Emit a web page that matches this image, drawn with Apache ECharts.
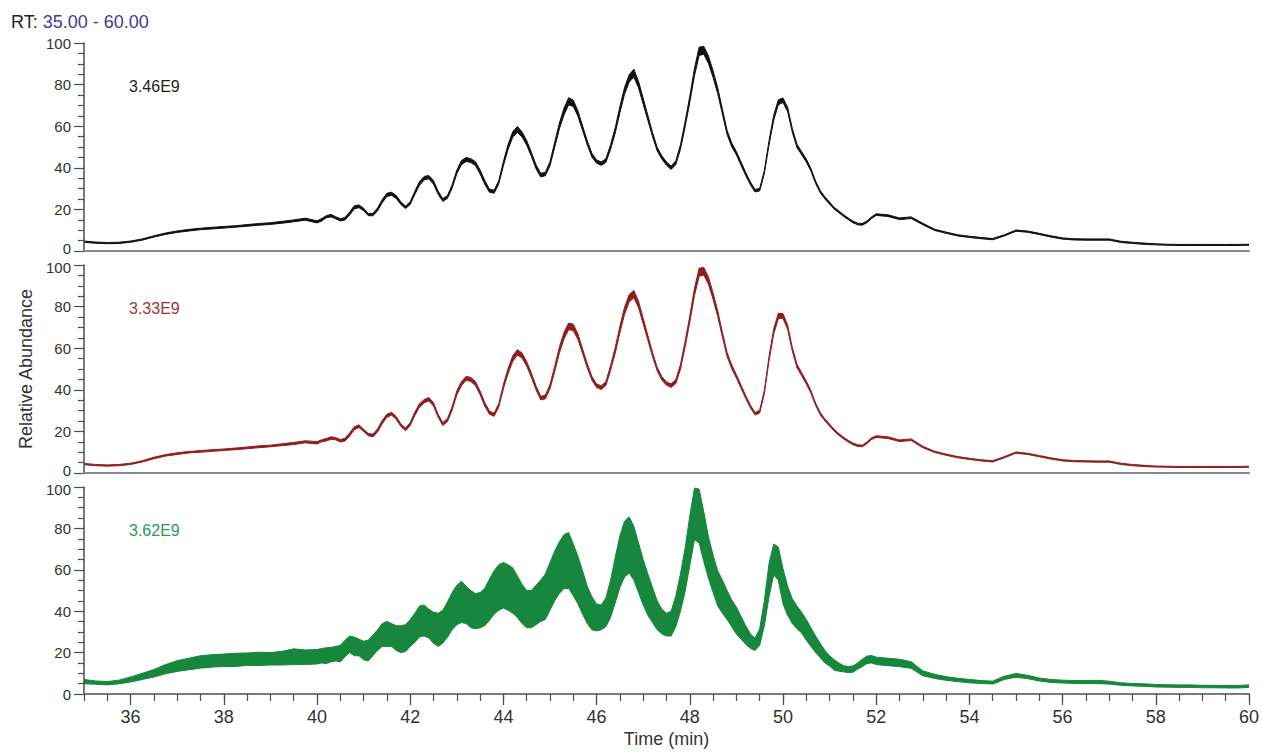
<!DOCTYPE html>
<html>
<head>
<meta charset="utf-8">
<script src="https://cdn.jsdelivr.net/npm/echarts@6/dist/echarts.min.js"></script>
<style>
  html, body { margin: 0; padding: 0; background: #ffffff; }
  #chart { width: 1262px; height: 753px; }
</style>
</head>
<body>
<div id="chart"></div>
<script>
// Retention times (min) at which the three traces are sampled
const times = [
  35, 35.25, 35.5, 35.75, 36, 36.25, 36.5, 36.75, 37, 37.25, 37.5, 37.75, 38, 38.25, 38.5, 38.75, 39, 39.25, 39.5, 39.75,
  40.0, 40.1, 40.2, 40.3, 40.4, 40.5, 40.6, 40.7, 40.8, 40.9,
  41.0, 41.1, 41.2, 41.3, 41.4, 41.5, 41.6, 41.7, 41.8, 41.9,
  42.0, 42.1, 42.2, 42.3, 42.4, 42.5, 42.6, 42.7, 42.8, 42.9,
  43.0, 43.1, 43.2, 43.3, 43.4, 43.5, 43.6, 43.7, 43.8, 43.9,
  44.0, 44.1, 44.2, 44.3, 44.4, 44.5, 44.6, 44.7, 44.8, 44.9,
  45.0, 45.1, 45.2, 45.3, 45.4, 45.5, 45.6, 45.7, 45.8, 45.9,
  46.0, 46.1, 46.2, 46.3, 46.4, 46.5, 46.6, 46.7, 46.8, 46.9,
  47.0, 47.1, 47.2, 47.3, 47.4, 47.5, 47.6, 47.7, 47.8, 47.9,
  48.0, 48.1, 48.2, 48.3, 48.4, 48.5, 48.6, 48.7, 48.8, 48.9,
  49.0, 49.1, 49.2, 49.3, 49.4, 49.5, 49.6, 49.7, 49.8, 49.9,
  50.0, 50.1, 50.2, 50.3, 50.4, 50.5, 50.6, 50.7, 50.8, 50.9,
  51.0, 51.1, 51.2, 51.3, 51.4, 51.5, 51.6, 51.7, 51.8, 51.9,
  52.0,
  52.25, 52.5, 52.75, 53, 53.25, 53.5, 53.75, 54, 54.25, 54.5, 54.75, 55, 55.25, 55.5, 55.75, 56,
  56.25, 56.5, 56.75, 57, 57.25, 57.5, 57.75, 58, 58.25, 58.5, 58.75, 59, 59.25, 59.5, 59.75, 60
];

// Trace 1 (black): centre of the trace and half-width of its noise band, relative abundance %
const blackMid = [
  4.5, 4.0, 3.8, 3.9, 4.5, 5.5, 7.0, 8.3, 9.3, 10.0, 10.6, 11.0, 11.4, 11.8, 12.3, 12.8, 13.2, 13.8, 14.5, 15.3,
  14.0, 15.0, 16.5, 17.0, 16.0, 15.0, 15.5, 18.0, 21.0, 21.5,
  20.0, 17.5, 17.5, 20.0, 24.0, 27.0, 27.5, 26.0, 23.0, 21.0,
  23.0, 28.0, 32.5, 35.0, 35.5, 33.0, 28.0, 24.5, 26.0, 31.0,
  38.0, 42.5, 44.0, 43.5, 42.0, 38.0, 33.0, 29.0, 28.5, 33.0,
  42.0, 50.0, 56.0, 58.5, 56.0, 52.0, 46.5, 40.5, 36.5, 37.0,
  42.0, 51.0, 60.0, 67.0, 72.0, 71.0, 66.0, 59.0, 52.0, 46.0,
  43.0, 42.0, 43.5, 50.0, 58.0, 68.0, 77.0, 83.0, 85.5, 80.0,
  72.0, 64.0, 56.0, 49.0, 45.0, 42.0, 40.0, 42.5, 50.0, 61.0,
  73.0, 86.0, 96.0, 96.5, 92.0, 85.0, 77.0, 67.0, 57.0, 51.0,
  47.0, 42.0, 37.0, 32.5, 29.0, 29.5, 38.0, 52.0, 64.0, 71.5,
  72.5, 68.0, 58.0, 50.5, 47.0, 43.5, 39.0, 33.0, 28.5, 25.5,
  23.0, 20.5, 18.8, 17.0, 15.5, 14.0, 13.0, 12.8, 14.0, 16.0,
  17.5,
  17.0, 15.5, 16.0, 13.0, 10.2, 8.8, 7.5, 6.8, 6.2, 5.7, 7.5, 9.8, 9.3, 8.2, 7.0, 6.0,
  5.6, 5.5, 5.5, 5.5, 4.4, 3.9, 3.5, 3.2, 3.0, 2.9, 2.9, 2.9, 2.9, 2.9, 2.9, 3.0
];
const blackSpread = [
  0.3, 0.3, 0.3, 0.3, 0.3, 0.3, 0.3, 0.35, 0.35, 0.4, 0.35, 0.4, 0.4, 0.35, 0.4, 0.4, 0.4, 0.45, 0.45, 0.5,
  0.5, 0.6, 0.5, 0.6, 0.5, 0.55, 0.6, 0.7, 0.75, 0.65,
  0.6, 0.5, 0.6, 0.7, 0.75, 0.8, 0.75, 0.7, 0.65, 0.6,
  0.65, 0.75, 0.9, 0.85, 0.8, 0.9, 0.75, 0.65, 0.7, 0.8,
  0.9, 1.0, 1.0, 0.9, 0.95, 1.0, 0.9, 0.75, 0.7, 0.8,
  1.0, 1.2, 1.3, 1.4, 1.25, 1.1, 1.0, 1.0, 0.9, 0.8,
  1.0, 1.2, 1.4, 1.6, 1.7, 1.5, 1.3, 1.1, 1.0, 0.9,
  0.8, 0.8, 0.9, 1.1, 1.3, 1.5, 1.6, 1.8, 1.9, 1.6,
  1.4, 1.2, 1.0, 0.9, 0.8, 0.8, 0.8, 0.9, 1.1, 1.3,
  1.5, 1.8, 2.0, 1.9, 1.8, 1.6, 1.4, 1.2, 1.0, 0.9,
  0.8, 0.8, 0.75, 0.65, 0.6, 0.6, 0.8, 1.0, 1.2, 1.2,
  1.1, 1.0, 0.9, 0.8, 0.75, 0.7, 0.65, 0.6, 0.55, 0.5,
  0.5, 0.45, 0.45, 0.4, 0.4, 0.4, 0.4, 0.4, 0.4, 0.4,
  0.4,
  0.4, 0.4, 0.4, 0.35, 0.3, 0.3, 0.3, 0.3, 0.3, 0.3, 0.3, 0.3, 0.3, 0.3, 0.3, 0.3,
  0.3, 0.3, 0.3, 0.3, 0.3, 0.3, 0.3, 0.25, 0.25, 0.25, 0.25, 0.25, 0.25, 0.25, 0.25, 0.25
];

// Trace 2 (red)
const redMid = [
  4.3, 3.8, 3.6, 3.8, 4.4, 5.6, 7.2, 8.5, 9.3, 10.0, 10.4, 10.8, 11.2, 11.6, 12.1, 12.6, 13.0, 13.6, 14.2, 15.0,
  14.5, 15.5, 16.0, 16.8, 16.5, 15.5, 16.0, 18.5, 21.5, 22.5,
  20.5, 18.5, 18.0, 20.5, 24.5, 27.5, 28.5, 26.5, 23.0, 21.0,
  23.5, 28.5, 32.5, 34.5, 35.5, 33.0, 27.5, 23.5, 25.5, 31.0,
  38.5, 43.0, 45.5, 45.0, 43.0, 38.5, 33.0, 29.0, 28.0, 32.5,
  41.5, 49.0, 55.0, 58.0, 56.5, 52.5, 47.0, 41.0, 36.0, 36.5,
  41.5, 50.0, 59.0, 66.0, 70.5, 70.0, 65.5, 58.5, 51.5, 45.5,
  42.0, 41.0, 43.0, 50.5, 59.0, 69.0, 78.0, 84.0, 86.0, 81.0,
  73.0, 65.0, 57.0, 50.0, 45.5, 43.0, 42.0, 44.0, 51.0, 62.0,
  74.0, 87.0, 96.5, 97.0, 92.5, 85.0, 76.5, 66.5, 57.0, 51.0,
  46.5, 41.5, 36.5, 32.0, 28.5, 29.5, 39.0, 55.0, 68.0, 75.5,
  75.5, 70.0, 59.5, 51.5, 47.5, 43.5, 39.0, 33.0, 28.5, 25.5,
  23.0, 20.5, 18.5, 16.8, 15.3, 14.0, 13.2, 13.0, 14.5, 16.5,
  17.5,
  17.0, 15.5, 16.0, 12.5, 10.2, 8.8, 7.6, 6.8, 6.1, 5.6, 7.6, 9.8, 9.2, 8.1, 7.0, 6.1,
  5.7, 5.6, 5.5, 5.5, 4.4, 3.8, 3.4, 3.1, 3.0, 2.9, 2.9, 2.9, 2.9, 2.9, 2.9, 3.0
];
const redSpread = [
  0.3, 0.3, 0.3, 0.3, 0.3, 0.3, 0.35, 0.35, 0.4, 0.35, 0.4, 0.4, 0.35, 0.4, 0.4, 0.45, 0.4, 0.45, 0.5, 0.5,
  0.55, 0.5, 0.6, 0.6, 0.55, 0.6, 0.65, 0.75, 0.7, 0.65,
  0.55, 0.55, 0.65, 0.75, 0.8, 0.75, 0.7, 0.65, 0.6, 0.65,
  0.7, 0.8, 0.85, 0.8, 0.85, 0.8, 0.7, 0.7, 0.75, 0.85,
  0.95, 1.0, 0.95, 0.95, 1.0, 0.9, 0.85, 0.75, 0.75, 0.85,
  1.05, 1.25, 1.35, 1.3, 1.2, 1.1, 1.05, 0.95, 0.85, 0.85,
  1.05, 1.25, 1.45, 1.55, 1.6, 1.55, 1.35, 1.15, 1.0, 0.9,
  0.85, 0.85, 0.95, 1.15, 1.35, 1.55, 1.7, 1.8, 1.75, 1.55,
  1.35, 1.15, 1.0, 0.9, 0.85, 0.8, 0.85, 0.95, 1.15, 1.35,
  1.55, 1.75, 1.9, 1.85, 1.75, 1.55, 1.35, 1.15, 1.0, 0.9,
  0.85, 0.8, 0.7, 0.65, 0.6, 0.65, 0.85, 1.05, 1.25, 1.3,
  1.15, 1.0, 0.9, 0.85, 0.75, 0.7, 0.65, 0.6, 0.55, 0.5,
  0.5, 0.45, 0.45, 0.4, 0.4, 0.4, 0.4, 0.4, 0.4, 0.4,
  0.4,
  0.4, 0.4, 0.4, 0.35, 0.3, 0.3, 0.3, 0.3, 0.3, 0.3, 0.3, 0.3, 0.3, 0.3, 0.3, 0.3,
  0.3, 0.3, 0.3, 0.3, 0.3, 0.3, 0.3, 0.25, 0.25, 0.25, 0.25, 0.25, 0.25, 0.25, 0.25, 0.25
];

// Trace 3 (green): a much noisier signal, hence the wide band
const greenMid = [
  6.0, 5.5, 5.2, 5.8, 7.0, 8.5, 10.0, 12.0, 13.5, 14.5, 15.5, 16.0, 16.3, 16.5, 16.8, 17.0, 17.0, 17.3, 18.0, 17.8,
  18.0, 18.5, 18.5, 19.0, 19.5, 19.5, 22.0, 24.0, 23.0, 22.5,
  21.0, 21.0, 23.5, 26.0, 28.5, 29.0, 28.5, 27.0, 26.5, 27.0,
  29.5, 32.0, 35.0, 35.5, 34.0, 32.0, 31.0, 32.5, 36.0, 40.0,
  43.0, 44.5, 43.0, 41.0, 40.0, 40.5, 42.0, 45.5, 49.0, 51.5,
  52.5, 51.5, 50.0, 47.0, 43.5, 41.0, 41.0, 43.0, 45.0, 47.0,
  52.0, 57.0, 61.0, 64.0, 64.5, 60.0, 55.0, 49.0, 43.0, 39.0,
  37.0, 37.0, 39.5, 46.0, 55.0, 64.0, 70.0, 72.0, 68.0, 61.0,
  54.0, 48.0, 43.0, 38.0, 35.0, 33.5, 34.0, 40.0, 49.0, 60.0,
  74.0, 87.0, 86.0, 76.0, 66.0, 58.0, 51.0, 47.0, 43.0, 39.0,
  35.5, 32.0, 28.5, 25.5, 24.0, 27.5, 39.0, 55.0, 65.0, 63.0,
  52.0, 45.0, 40.0, 37.0, 34.5, 31.0, 27.5, 24.0, 21.0, 18.0,
  16.0, 14.0, 13.0, 12.2, 11.8, 12.0, 13.5, 15.0, 16.5, 16.8,
  16.0,
  15.5, 15.0, 14.0, 10.0, 8.5, 7.5, 6.8, 6.2, 5.8, 5.5, 7.8, 9.0, 8.2, 7.0, 6.3, 6.0,
  5.8, 5.8, 5.8, 5.5, 4.8, 4.5, 4.3, 4.0, 3.9, 3.8, 3.8, 3.6, 3.6, 3.5, 3.5, 3.8
];
const greenSpread = [
  1.0, 0.8, 0.8, 0.9, 1.2, 1.5, 1.8, 2.2, 2.6, 2.8, 3.0, 3.0, 3.0, 3.2, 3.0, 3.2, 3.0, 3.3, 3.8, 3.5,
  3.5, 3.5, 3.8, 3.5, 3.5, 4.0, 4.0, 4.0, 4.5, 4.0,
  4.5, 5.0, 5.0, 5.0, 5.5, 6.0, 5.5, 6.0, 6.5, 6.5,
  6.5, 7.0, 7.5, 7.5, 7.0, 7.5, 8.0, 8.0, 8.5, 9.0,
  9.5, 10.0, 9.0, 9.0, 8.5, 8.5, 9.0, 10.0, 10.5, 11.0,
  11.0, 11.0, 11.0, 10.0, 9.5, 9.0, 9.0, 9.5, 10.0, 11.0,
  11.5, 12.0, 12.5, 13.0, 13.5, 12.5, 11.5, 10.5, 9.0, 8.0,
  6.5, 6.0, 7.0, 9.0, 11.0, 12.5, 13.5, 13.5, 13.0, 12.0,
  11.0, 10.0, 8.5, 7.0, 6.0, 5.5, 6.0, 7.5, 9.0, 10.5,
  12.0, 12.5, 13.0, 12.0, 10.0, 9.0, 8.5, 8.0, 7.0, 6.5,
  6.5, 5.5, 4.5, 3.5, 3.0, 4.0, 6.0, 8.0, 7.5, 8.0,
  8.5, 7.0, 6.0, 5.5, 5.0, 5.0, 4.5, 4.0, 3.5, 3.0,
  2.5, 2.5, 2.0, 1.5, 1.5, 1.5, 1.5, 1.8, 1.8, 1.8,
  1.8,
  1.8, 1.8, 1.6, 1.2, 1.0, 0.9, 0.8, 0.8, 0.7, 0.7, 0.8, 0.9, 0.8, 0.7, 0.7, 0.7,
  0.7, 0.7, 0.8, 0.7, 0.6, 0.6, 0.6, 0.6, 0.6, 0.6, 0.6, 0.6, 0.6, 0.6, 0.6, 0.6
];

// Base-peak intensities printed in each panel
const intensityLabels = ['3.46E9', '3.33E9', '3.62E9'];

const FONT = '"Liberation Sans", Arial, Helvetica, sans-serif';
const AXIS_DARK = '#4d4d4d';

const panels = [
  { mid: blackMid, spread: blackSpread, color: '#111111', labelColor: '#1e1e1e', top: 43, height: 208 },
  { mid: redMid, spread: redSpread, color: '#8e1f1f', labelColor: '#a23333', top: 265, height: 208 },
  { mid: greenMid, spread: greenSpread, color: '#16873c', labelColor: '#2d9a55', top: 487, height: 207 }
];

const grids = [], xAxes = [], yAxes = [], series = [], titles = [];

titles.push({
  text: '{a|RT: }{b|35.00 - 60.00}',
  left: 6, top: 8,
  textStyle: {
    fontWeight: 'normal',
    rich: {
      a: { fontSize: 18, color: '#222222', fontFamily: FONT, fontWeight: 'normal' },
      b: { fontSize: 18, color: '#3c3c96', fontFamily: FONT, fontWeight: 'normal' }
    }
  }
});

// the 0 of one panel sits right above the 100 of the next: nudge them apart slightly
const yLabelStyle = { fontSize: 15, color: '#333333', fontFamily: FONT };
const yLabelRich = {
  n: Object.assign({}, yLabelStyle),
  lo: Object.assign({ padding: [0, 0, 5, 0] }, yLabelStyle),
  hi: Object.assign({ padding: [4, 0, 0, 0] }, yLabelStyle)
};

panels.forEach((p, i) => {
  grids.push({ left: 84, right: 13, top: p.top, height: p.height, containLabel: false });

  yAxes.push({
    gridIndex: i, type: 'value', min: 0, max: 100, interval: 20, z: 5,
    axisLine: { show: true, lineStyle: { color: AXIS_DARK, width: 1.5 } },
    axisTick: { show: true, inside: false, length: 10, lineStyle: { color: AXIS_DARK, width: 1.2 } },
    minorTick: { show: true, splitNumber: 4, length: 6, lineStyle: { color: AXIS_DARK, width: 1.2 } },
    axisLabel: {
      margin: 13, fontSize: 15, color: '#333333', fontFamily: FONT,
      formatter: v => (v === 0 && i < 2) ? '{lo|0}' : (v === 100 && i > 0) ? '{hi|100}' : '{n|' + v + '}',
      rich: yLabelRich
    },
    splitLine: { show: false },
    minorSplitLine: { show: false },
    name: i === 1 ? 'Relative Abundance' : '',
    nameLocation: 'middle', nameRotate: 90, nameGap: 44,
    nameTextStyle: { fontSize: 18, color: '#333333', fontFamily: FONT }
  });

  titles.push({
    text: intensityLabels[i], left: 124, top: p.top + 30,
    textStyle: { fontSize: 16, color: p.labelColor, fontWeight: 'normal', fontFamily: FONT }
  });
});

// x axes: plain baselines for the upper panels
[0, 1].forEach(i => {
  xAxes.push({
    gridIndex: i, type: 'value', min: 35, max: 60, position: 'bottom', z: 5,
    axisLine: { show: true, onZero: false, lineStyle: { color: '#8a8a8a', width: 2 } },
    axisTick: { show: false }, axisLabel: { show: false }, splitLine: { show: false }
  });
});
// bottom panel: half-minute ticks
xAxes.push({
  gridIndex: 2, type: 'value', min: 35, max: 60, interval: 0.5, position: 'bottom', z: 5,
  axisLine: { show: true, onZero: false, lineStyle: { color: '#7a7a7a', width: 2 } },
  axisTick: { show: true, inside: false, length: 7, lineStyle: { color: AXIS_DARK, width: 1.2 } },
  axisLabel: { show: false }, splitLine: { show: false }
});
// bottom panel: labelled two-minute ticks
xAxes.push({
  gridIndex: 2, type: 'value', min: 35, max: 60, splitNumber: 12, minInterval: 2, maxInterval: 2,
  position: 'bottom', z: 5,
  axisLine: { show: true, onZero: false, lineStyle: { color: '#7a7a7a', width: 2 } },
  axisTick: { show: true, inside: false, length: 11, lineStyle: { color: AXIS_DARK, width: 1.2 } },
  axisLabel: { show: true, fontSize: 18, color: '#333333', margin: 14, fontFamily: FONT, showMinLabel: false },
  splitLine: { show: false },
  name: 'Time (min)', nameLocation: 'middle', nameGap: 36,
  nameTextStyle: { fontSize: 18, color: '#333333', fontFamily: FONT }
});

const xIndexFor = [0, 1, 3];

panels.forEach((p, i) => {
  // upper edge of the noise band, filled down to the baseline in the trace colour
  const upper = p.mid.map((m, k) => [times[k], +(m + p.spread[k]).toFixed(2)]);
  // lower edge, filled down to the baseline in white so only the band remains
  const lower = p.mid.map((m, k) => [times[k], +(m - p.spread[k]).toFixed(2)]);
  series.push({
    type: 'line', xAxisIndex: xIndexFor[i], yAxisIndex: i, z: 2,
    data: upper, symbol: 'none', silent: true, clip: true,
    lineStyle: { color: p.color, width: 1 },
    areaStyle: { color: p.color, opacity: 1, origin: 'start' }
  });
  series.push({
    type: 'line', xAxisIndex: xIndexFor[i], yAxisIndex: i, z: 3,
    data: lower, symbol: 'none', silent: true, clip: true,
    lineStyle: { color: p.color, width: 1 },
    areaStyle: { color: '#ffffff', opacity: 1, origin: 'start' }
  });
});

const chart = echarts.init(document.getElementById('chart'), null, { renderer: 'svg', width: 1262, height: 753 });
chart.setOption({
  animation: false,
  backgroundColor: '#ffffff',
  textStyle: { fontFamily: FONT },
  title: titles,
  grid: grids,
  xAxis: xAxes,
  yAxis: yAxes,
  series: series
});
</script>
</body>
</html>
